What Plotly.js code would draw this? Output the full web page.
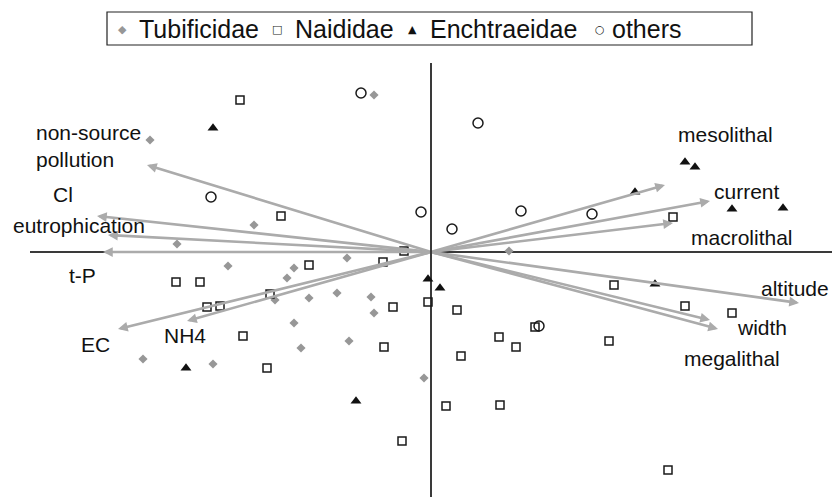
<!DOCTYPE html>
<html>
<head>
<meta charset="utf-8">
<script src="https://cdn.plot.ly/plotly-3.0.1.min.js"></script>
<style>
  html, body { margin: 0; padding: 0; background: #fff; }
  #chart { width: 832px; height: 497px; }
</style>
</head>
<body>
<div id="chart"></div>
<script>
// Ordination scores of sampling sites, grouped by dominant oligochaete family
const tubificidaeX = [-0.285, -1.405, -0.885, -1.27, 0.39, -0.42, -1.015, -0.685, -0.72, -0.78, -0.61, -0.47, -0.30, -0.285, -0.685, -0.41, -0.65, -1.44, -1.09, -0.035];
const tubificidaeY = [0.785, 0.56, 0.135, 0.04, 0.005, -0.03, -0.07, -0.08, -0.13, -0.24, -0.23, -0.205, -0.225, -0.305, -0.355, -0.445, -0.48, -0.535, -0.56, -0.63];

const naididaeX = [-0.955, -0.75, 1.21, -0.135, -0.24, -0.61, -1.275, -1.155, -0.805, -1.12, -1.055, -0.94, -0.82, -0.19, -0.015, 0.13, -0.235, 0.15, 0.34, 0.425, 0.52, 0.075, 0.345, -0.145, 0.915, 1.27, 1.505, 0.89, 1.185];
const naididaeY = [0.76, 0.18, 0.175, 0.005, -0.05, -0.065, -0.15, -0.15, -0.21, -0.275, -0.27, -0.42, -0.58, -0.275, -0.25, -0.29, -0.475, -0.52, -0.425, -0.475, -0.375, -0.77, -0.765, -0.945, -0.165, -0.27, -0.305, -0.445, -1.09];

const enchtraeidaeX = [-1.09, 1.27, 1.32, 1.02, 1.505, 1.76, -0.015, 0.045, 1.12, -1.225, -0.375];
const enchtraeidaeY = [0.62, 0.45, 0.425, 0.30, 0.215, 0.22, -0.135, -0.18, -0.16, -0.58, -0.745];

const othersX = [-0.35, 0.235, -1.10, -0.05, 0.105, 0.45, 0.805, 0.54];
const othersY = [0.795, 0.645, 0.275, 0.20, 0.115, 0.205, 0.19, -0.37];

// Environmental variable vectors
const envNames = ['non-source pollution', 'Cl', 'eutrophication', 't-P', 'EC', 'NH4',
                  'mesolithal', 'current', 'macrolithal', 'altitude', 'width', 'megalithal'];
const envX = [-1.42, -1.67, -1.615, -1.64, -1.565, -1.22, 1.17, 1.395, 1.21, 1.84, 1.395, 1.435];
const envY = [0.435, 0.18, 0.085, 0.0, -0.385, -0.345, 0.335, 0.255, 0.145, -0.255, -0.34, -0.385];

// Where each vector's name is printed
const envLabelText = ['non-source<br>pollution', 'Cl', 'eutrophication', 't-P', 'EC', 'NH4',
                      'mesolithal', 'current', 'macrolithal', 'altitude', 'width', 'megalithal'];
const envLabelX = [-1.985, -1.84, -1.76, -1.745, -1.68, -1.23, 1.47, 1.58, 1.555, 1.82, 1.655, 1.505];
const envLabelY = [0.53, 0.29, 0.135, -0.115, -0.46, -0.415, 0.59, 0.305, 0.075, -0.18, -0.375, -0.53];
const envLabelAnchor = ['left', 'center', 'center', 'center', 'center', 'center',
                        'center', 'center', 'center', 'center', 'center', 'center'];

// Legend entries: symbol glyph, its colour, and label
const legendNames = ['Tubificidae', 'Naididae', 'Enchtraeidae', 'others'];
const legendGlyphs = ['\u25C6', '\u25A1', '\u25B2', '\u25CB'];
const legendGlyphColors = ['#979797', '#1a1a1a', '#111111', '#1a1a1a'];
const legendGlyphPx = [122, 277, 412, 600];
const legendTextPx = [137, 293, 428, 610];

const FONT = 'Liberation Sans, Arial, Helvetica, sans-serif';
const ARROW_GREY = '#ababab';

// plot area geometry in pixels (used to place the legend box in paper units)
const PLOT_L = 30, PLOT_W = 802, PLOT_T = 63, PLOT_H = 434;
const paperX = px => (px - PLOT_L) / PLOT_W;
const paperY = py => 1 + (PLOT_T - py) / PLOT_H;

const traces = [
  {
    name: 'Tubificidae', x: tubificidaeX, y: tubificidaeY, type: 'scatter', mode: 'markers',
    marker: { symbol: 'diamond', size: 7, color: '#979797' }
  },
  {
    name: 'Naididae', x: naididaeX, y: naididaeY, type: 'scatter', mode: 'markers',
    marker: { symbol: 'square-open', size: 8, color: '#1a1a1a', line: { width: 1.5 } }
  },
  {
    name: 'Enchtraeidae', x: enchtraeidaeX, y: enchtraeidaeY, type: 'scatter', mode: 'markers',
    marker: { symbol: 'triangle-up', size: 9.5, color: '#111111' }
  },
  {
    name: 'others', x: othersX, y: othersY, type: 'scatter', mode: 'markers',
    marker: { symbol: 'circle-open', size: 10, color: '#1a1a1a', line: { width: 1.5 } }
  }
];

const annotations = [];
envNames.forEach((name, i) => {
  annotations.push({
    x: envX[i], y: envY[i], xref: 'x', yref: 'y',
    ax: 0, ay: 0, axref: 'x', ayref: 'y',
    text: '', showarrow: true, arrowhead: 2, arrowsize: 0.75,
    arrowwidth: 2.6, arrowcolor: ARROW_GREY, standoff: 0, startstandoff: 0
  });
});
envLabelText.forEach((txt, i) => {
  annotations.push({
    x: envLabelX[i], y: envLabelY[i], xref: 'x', yref: 'y',
    text: txt, showarrow: false, xanchor: envLabelAnchor[i], yanchor: 'middle',
    align: 'left', font: { family: FONT, size: 21, color: '#111111' }
  });
});

// legend drawn as a framed row of symbol glyphs and names
const legendMidY = paperY(29);
legendNames.forEach((name, i) => {
  annotations.push({
    x: paperX(legendGlyphPx[i]), y: legendMidY, xref: 'paper', yref: 'paper',
    text: legendGlyphs[i], showarrow: false, xanchor: 'center', yanchor: 'middle',
    font: { family: 'DejaVu Sans', size: 11, color: legendGlyphColors[i] }
  });
  annotations.push({
    x: paperX(legendTextPx[i]), y: legendMidY, xref: 'paper', yref: 'paper',
    text: name, showarrow: false, xanchor: 'left', yanchor: 'middle',
    font: { family: FONT, size: 25, color: '#111111' }
  });
});

const layout = {
  width: 832, height: 497,
  margin: { l: PLOT_L, r: 0, t: PLOT_T, b: 0, pad: 0 },
  paper_bgcolor: '#ffffff', plot_bgcolor: '#ffffff',
  font: { family: FONT, color: '#1a1a1a' },
  showlegend: false,
  xaxis: {
    range: [-2.005, 2.005], showgrid: false, showticklabels: false, ticks: '',
    zeroline: true, zerolinecolor: '#3a3a3a', zerolinewidth: 1.6, showline: false, fixedrange: true
  },
  yaxis: {
    range: [-1.225, 0.945], showgrid: false, showticklabels: false, ticks: '',
    zeroline: true, zerolinecolor: '#3a3a3a', zerolinewidth: 1.6, showline: false, fixedrange: true
  },
  shapes: [{
    type: 'rect', xref: 'paper', yref: 'paper',
    x0: paperX(107), x1: paperX(752), y0: paperY(45), y1: paperY(12),
    line: { color: '#222222', width: 1.2 }, fillcolor: 'rgba(0,0,0,0)'
  }],
  annotations: annotations
};

Plotly.newPlot('chart', traces, layout, { displayModeBar: false, staticPlot: true });
</script>
</body>
</html>
